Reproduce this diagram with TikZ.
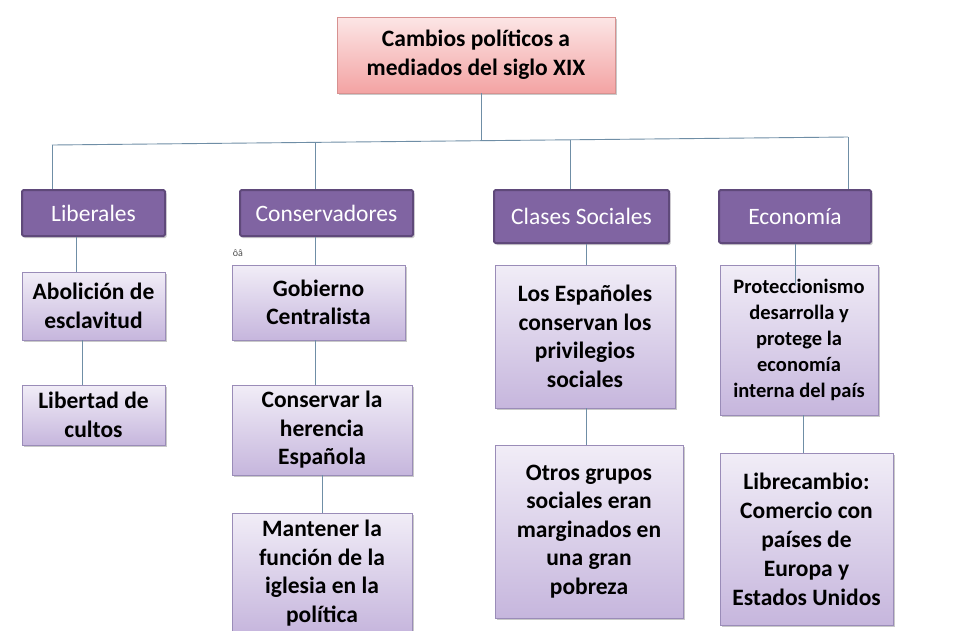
\documentclass[tikz,border=0pt]{standalone}
\usepackage{fontspec}
\setmainfont{Carlito}
\usetikzlibrary{shadows,calc}
\definecolor{purp}{HTML}{8064A2}
\definecolor{purpd}{HTML}{5F497A}
\definecolor{lavt}{HTML}{F1EDF7}
\definecolor{lavb}{HTML}{C6B6DD}
\definecolor{lavd}{HTML}{9A8CB8}
\definecolor{pinkt}{HTML}{FCE6E6}
\definecolor{pinkb}{HTML}{F3A3A3}
\definecolor{pinkd}{HTML}{D79190}
\definecolor{conncol}{HTML}{6F8EA6}
\tikzset{
  shadowed/.style={drop shadow={shadow xshift=1.5pt,shadow yshift=-2pt,opacity=0.35,fill=black!60}},
  titlebox/.style={draw=pinkd,line width=0.8pt,top color=pinkt,bottom color=pinkb,shadowed,
    inner sep=0pt,align=center,font=\bfseries\fontsize{23.5}{29}\selectfont},
  catbox/.style={draw=purpd,line width=2pt,rounded corners=1.5pt,fill=purp,shadowed,
    inner sep=0pt,align=center,text=white,font=\fontsize{23.5}{26}\selectfont},
  childbox/.style={draw=lavd,line width=0.8pt,top color=lavt,bottom color=lavb,shadowed,
    inner sep=0pt,align=center,font=\bfseries\fontsize{23.5}{28.5}\selectfont},
  conn/.style={draw=conncol,line width=0.9pt},
}
\begin{document}
\begin{tikzpicture}[x=1pt,y=-1pt]
\useasboundingbox[fill=white] (0,0) rectangle (960,630);
% title
\node[titlebox,minimum width=278pt,minimum height=76pt] (title) at (476,55) {Cambios políticos a\\mediados del siglo XIX};
% categories
\node[catbox,minimum width=143pt,minimum height=46pt] (lib) at (93.5,213) {Liberales};
\node[catbox,minimum width=173pt,minimum height=46pt] (con) at (326.5,213) {Conservadores};
\node[catbox,minimum width=175pt,minimum height=53pt] (cla) at (581.5,216.5) {Clases Sociales};
\node[catbox,minimum width=152pt,minimum height=53pt] (eco) at (795,216.5) {Economía};
% children
\node[childbox,minimum width=143pt,minimum height=68pt] (abo) at (93.5,306) {Abolición de\\esclavitud};
\node[childbox,minimum width=143pt,minimum height=60pt] (ltd) at (93.5,415) {Libertad de\\cultos};
\node[childbox,minimum width=173pt,minimum height=75pt] (gob) at (318.5,302.5) {Gobierno\\Centralista};
\node[childbox,minimum width=180pt,minimum height=90pt] (her) at (322,430) {Conservar la\\herencia\\Española};
\node[childbox,minimum width=180pt,minimum height=120pt] (igl) at (322,573) {Mantener la\\función de la\\iglesia en la\\política};
\node[childbox,minimum width=180pt,minimum height=143pt] (esp) at (585,336.5) {Los Españoles\\conservan los\\privilegios\\sociales};
\node[childbox,minimum width=188pt,minimum height=173pt] (otr) at (589,531.5) {Otros grupos\\sociales eran\\marginados en\\una gran\\pobreza};
\node[childbox,minimum width=158pt,minimum height=150pt,font=\bfseries\fontsize{20.5}{26}\selectfont] (pro) at (799,340) {Proteccionismo\\desarrolla y\\protege la\\economía\\interna del país};
\node[childbox,minimum width=173pt,minimum height=172pt,font=\bfseries\fontsize{23.5}{29}\selectfont] (lbc) at (806.5,539) {Librecambio:\\Comercio con\\países de\\Europa y\\Estados Unidos};
% stray text
\node[inner sep=0pt,text=black!70,font=\fontsize{10}{11}\selectfont] (stray) at (238,253) {ôâ};
% bus
\coordinate (bl) at (52,145);
\coordinate (bc) at (315,142.4);
\coordinate (bt) at (481,140.7);
\coordinate (bs) at (570,139.8);
\coordinate (br) at (848,137);
\draw[conn] (bl) -- (br);
\draw[conn] ([xshift=5pt]title.south) -- (bt);
\draw[conn] (bl) -- ([xshift=-41.5pt]lib.north);
\draw[conn] (bc) -- ([xshift=-11.5pt]con.north);
\draw[conn] (bs) -- ([xshift=-11.5pt]cla.north);
\draw[conn] (br) -- ([xshift=53pt]eco.north);
% branches
\draw[conn] ([xshift=-17.5pt]lib.south) -- ([xshift=-17.5pt]abo.north);
\draw[conn] ([xshift=-11.5pt]abo.south) -- ([xshift=-11.5pt]ltd.north);
\draw[conn] ([xshift=-3.5pt]gob.north |- con.south) -- ([xshift=-3.5pt]gob.north) ;
\draw[conn] ([xshift=-3.5pt]gob.south) -- ([xshift=-7pt]her.north);
\draw[conn] (her.south) -- (igl.north);
\draw[conn] ([xshift=4.5pt]cla.south) -- ([xshift=1pt]esp.north);
\draw[conn] ([xshift=1pt]esp.south) -- ([xshift=-3pt]otr.north);
\draw[conn] (eco.south) -- ($(pro.north)+(-4,20)$);
\draw[conn] ([xshift=4pt]pro.south) -- ([xshift=-3.5pt]lbc.north);
\end{tikzpicture}
\end{document}
